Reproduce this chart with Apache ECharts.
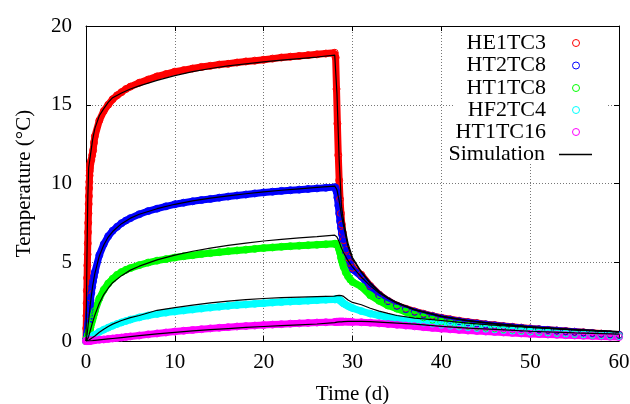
<!DOCTYPE html>
<html><head><meta charset="utf-8">
<script src="https://cdn.jsdelivr.net/npm/echarts@6/dist/echarts.min.js"></script>
<style>html,body{margin:0;padding:0;background:#fff}#c{width:630px;height:404px}</style>
</head><body><div id="c"></div>
<script>
// ---- data ----
const tMeas = [0,0.025,0.05,0.075,0.1,0.125,0.15,0.175,0.2,0.225,0.25,0.275,0.3,0.325,0.35,0.375,0.4,0.425,0.45,0.475,0.5,
  0.6,0.7,0.8,0.9,1.0,
  1.5,2,2.5,3,3.5,4,4.5,5,
  6,7,8,9,10,11,12,13,14,15,16,17,18,19,20,21,22,23,24,25,26,27,28,
  28.1,28.2,28.3,28.4,28.5,28.6,28.7,28.8,28.9,29.0,
  29.25,29.5,29.75,30,
  31,32,33,34,35,36,37,38,39,40,41,42,43,44,45,46,47,48,49,50,51,52,53,54,55,56,57,58,59,60];

const HE1TC3 = [0,0.8,1.6,2.4,3.2,4.0,4.8,5.5,6.2,6.9,7.5,8.1,8.7,9.2,9.7,10.1,10.5,10.8,11.0,11.2,11.3,
  11.5,11.8,12.1,12.6,13.0,
  14.0,14.6,15.0,15.35,15.6,15.8,16.0,16.15,
  16.4,16.6,16.8,16.95,17.1,17.2,17.3,17.4,17.47,17.55,17.6,17.68,17.75,17.8,17.86,17.93,18.0,18.05,18.1,18.15,18.2,18.25,18.3,
  18.0,16.0,13.8,11.8,10.2,9.0,8.1,7.4,6.9,6.4,
  5.8,5.3,4.95,4.65,
  4.2,3.5,2.95,2.55,2.25,2.05,1.88,1.73,1.6,1.48,1.38,1.29,1.21,1.14,1.07,1.01,0.95,0.9,0.85,0.8,0.75,0.71,0.67,0.63,0.59,0.55,0.51,0.47,0.43,0.4];

const HT2TC8 = [0,0.05,0.12,0.2,0.3,0.42,0.55,0.68,0.82,0.97,1.12,1.27,1.42,1.57,1.72,1.87,2.02,2.17,2.32,2.46,2.6,
  3.05,3.45,3.8,4.1,4.38,
  5.45,6.15,6.65,7.0,7.25,7.48,7.65,7.8,
  8.05,8.25,8.4,8.55,8.68,8.78,8.87,8.95,9.02,9.1,9.17,9.24,9.3,9.37,9.43,9.48,9.53,9.57,9.61,9.65,9.69,9.73,9.77,
  9.72,9.5,9.1,8.6,8.1,7.6,7.2,6.8,6.5,6.2,
  5.65,5.2,4.85,4.55,
  4.1,3.45,2.92,2.53,2.23,2.02,1.85,1.7,1.57,1.45,1.35,1.26,1.18,1.11,1.05,0.99,0.93,0.88,0.83,0.78,0.74,0.7,0.66,0.62,0.58,0.54,0.5,0.46,0.42,0.39];

const HT1TC8 = [0,0.02,0.05,0.08,0.12,0.16,0.2,0.24,0.29,0.34,0.39,0.44,0.49,0.54,0.59,0.64,0.69,0.74,0.79,0.84,0.89,
  1.1,1.3,1.5,1.7,1.9,
  2.7,3.25,3.65,3.95,4.2,4.38,4.52,4.63,
  4.82,4.98,5.1,5.2,5.3,5.38,5.45,5.52,5.58,5.64,5.7,5.75,5.8,5.85,5.9,5.94,5.98,6.02,6.05,6.08,6.11,6.14,6.17,
  6.17,6.15,6.1,6.0,5.8,5.6,5.3,5.1,4.9,4.7,
  4.35,4.1,3.9,3.75,
  3.45,2.9,2.55,2.25,2.05,1.85,1.65,1.5,1.35,1.22,1.12,1.03,0.96,0.9,0.84,0.79,0.74,0.7,0.66,0.62,0.58,0.55,0.51,0.48,0.45,0.42,0.39,0.36,0.33,0.3];

const HF2TC4 = [0,0.01,0.02,0.03,0.04,0.05,0.06,0.07,0.08,0.09,0.1,0.11,0.12,0.13,0.14,0.15,0.16,0.17,0.18,0.19,0.2,
  0.24,0.28,0.32,0.36,0.4,
  0.58,0.72,0.85,0.97,1.08,1.18,1.27,1.36,
  1.5,1.62,1.72,1.8,1.87,1.94,2.0,2.06,2.12,2.18,2.23,2.28,2.32,2.36,2.4,2.44,2.47,2.5,2.53,2.56,2.59,2.62,2.64,
  2.65,2.66,2.66,2.65,2.62,2.58,2.53,2.48,2.43,2.38,
  2.3,2.22,2.15,2.09,
  1.9,1.74,1.62,1.5,1.42,1.33,1.25,1.17,1.1,1.03,0.97,0.92,0.87,0.82,0.78,0.74,0.7,0.66,0.63,0.6,0.57,0.54,0.51,0.48,0.45,0.42,0.39,0.36,0.33,0.3];

const HT1TC16 = [0,0,0,0,0,0,0,0,0,0,0,0,0.01,0.01,0.01,0.01,0.01,0.01,0.02,0.02,0.02,
  0.03,0.03,0.04,0.05,0.05,
  0.08,0.1,0.13,0.16,0.19,0.22,0.26,0.29,
  0.35,0.42,0.48,0.54,0.6,0.65,0.7,0.75,0.8,0.84,0.88,0.92,0.95,0.98,1.01,1.04,1.07,1.1,1.12,1.15,1.17,1.19,1.21,
  1.21,1.22,1.22,1.22,1.23,1.23,1.23,1.23,1.23,1.23,
  1.23,1.22,1.22,1.21,
  1.19,1.16,1.12,1.08,1.03,0.98,0.93,0.88,0.83,0.78,0.74,0.7,0.66,0.63,0.6,0.57,0.54,0.51,0.48,0.45,0.43,0.41,0.39,0.37,0.35,0.33,0.31,0.29,0.27,0.25];

const tSim = [0,0.1,0.2,0.3,0.5,0.75,1,1.5,2,2.5,3,4,5,6,8,10,12,14,16,18,20,22,24,26,28,
  28.25,28.5,28.75,29,29.5,30,31,32,33,34,35,37,40,43,46,50,55,60];
const simHE1TC3 = [0,5.0,9.0,11.0,11.8,12.8,13.5,14.3,14.75,15.15,15.45,15.75,16.0,16.2,16.55,16.85,17.1,17.3,17.47,17.6,17.72,17.83,17.93,18.03,18.15,
  15.7,11.5,8.6,7.6,6.2,5.3,4.4,3.7,3.15,2.75,2.45,2.0,1.58,1.3,1.1,0.9,0.72,0.6];
const simHT2TC8 = [0,0.3,0.8,1.3,2.4,3.5,4.3,5.4,6.1,6.6,6.95,7.45,7.8,8.05,8.4,8.68,8.9,9.07,9.22,9.35,9.47,9.57,9.66,9.75,9.83,
  9.6,8.9,8.0,7.3,6.0,5.2,4.35,3.65,3.1,2.72,2.42,1.98,1.57,1.3,1.1,0.9,0.73,0.6];
const simHT1TC8 = [0,0.05,0.15,0.3,0.7,1.2,1.65,2.4,2.95,3.35,3.7,4.15,4.5,4.75,5.15,5.45,5.7,5.9,6.07,6.22,6.35,6.45,6.55,6.63,6.72,
  6.6,6.3,5.9,5.6,5.1,4.7,4.05,3.5,3.05,2.7,2.4,1.98,1.55,1.28,1.08,0.88,0.7,0.58];
const simHF2TC4 = [0,0,0.02,0.05,0.12,0.22,0.32,0.55,0.75,0.92,1.07,1.3,1.48,1.62,1.95,2.12,2.28,2.42,2.53,2.63,2.7,2.75,2.79,2.82,2.85,
  2.88,2.9,2.88,2.83,2.6,2.45,2.3,2.08,1.9,1.75,1.62,1.45,1.3,1.13,1.0,0.86,0.7,0.57];
const simHT1TC16 = [0,0,0,0,0.01,0.02,0.04,0.07,0.1,0.13,0.16,0.22,0.28,0.34,0.45,0.55,0.64,0.72,0.79,0.86,0.92,0.98,1.03,1.08,1.17,
  1.2,1.21,1.22,1.23,1.24,1.25,1.25,1.23,1.2,1.17,1.14,1.07,0.93,0.82,0.74,0.62,0.52,0.44];

const measNames = ['HE1TC3','HT2TC8','HT1TC8','HF2TC4','HT1TC16'];
const measColors = ['#ff0000','#0000ff','#00ff00','#00ffff','#ff00ff'];
const measValues = [HE1TC3, HT2TC8, HT1TC8, HF2TC4, HT1TC16];
const simValues = [simHE1TC3, simHT2TC8, simHT1TC8, simHF2TC4, simHT1TC16];
const simName = 'Simulation';
const xTitle = 'Time (d)';
const yTitle = 'Temperature (°C)';

// ---- chart ----
const FONT = 'Liberation Serif';
const pairs = (ts, vs) => ts.map((t, i) => [t, vs[i]]);
const chart = echarts.init(document.getElementById('c'), null, {renderer: 'canvas'});

const series = [];
measNames.forEach((n, i) => {
  series.push({
    type: 'line', name: n, data: pairs(tMeas, measValues[i]),
    symbol: 'circle', symbolSize: 7, showAllSymbol: true,
    lineStyle: {color: measColors[i], width: 7},
    itemStyle: {color: 'rgba(0,0,0,0)', borderColor: measColors[i], borderWidth: 1},
    emphasis: {disabled: true}, silent: true, z: 2
  });
});
simValues.forEach(v => {
  series.push({
    type: 'line', name: simName, data: pairs(tSim, v), symbol: 'none',
    lineStyle: {color: '#000', width: 1.2}, itemStyle: {color: '#000'},
    emphasis: {disabled: true}, silent: true, z: 3
  });
});

const textStyle = {fontFamily: FONT, fontSize: 21, color: '#000'};
const legendText = {fontFamily: FONT, fontSize: 22, color: '#000'};
const rowTop = [32, 54.5, 77, 99, 121, 143.5];
const legends = measNames.map((n, i) => ({
  data: [{name: n, icon: 'circle', itemStyle: {color: 'rgba(0,0,0,0)', borderColor: measColors[i], borderWidth: 1}}],
  orient: 'vertical', align: 'right', right: 50, top: rowTop[i],
  itemWidth: 50, itemHeight: 7, padding: 0, selectedMode: false, textStyle: legendText, z: 5
}));
legends.push({
  data: [{name: simName, icon: 'rect', itemStyle: {color: '#000'}}],
  orient: 'vertical', align: 'right', right: 38, top: rowTop[5],
  itemWidth: 33, itemHeight: 1.5, symbolKeepAspect: false, padding: 0, selectedMode: false,
  textStyle: Object.assign({}, legendText, {padding: [0, 9, 0, 0]}), z: 5
});

const grid = {left: 86, right: 11, top: 26, bottom: 63, containLabel: false, outerBoundsMode: 'none'};
const splitLine = {show: true, lineStyle: {color: '#777', type: [1, 2], width: 1}};
const axisLine = {show: true, onZero: false, lineStyle: {color: '#000', width: 1}};
const axisTick = {show: true, inside: true, length: 5, lineStyle: {color: '#000'}};

chart.setOption({
  animation: false,
  backgroundColor: '#fff',
  grid: grid,
  legend: legends,
  graphic: [{type: 'rect', shape: {x: 453, y: 27, width: 154, height: 136}, style: {fill: '#fff'}, z: 3, silent: true}],
  xAxis: [
    {type: 'value', min: 0, max: 60, interval: 10, axisLine: axisLine, axisTick: axisTick,
     axisLabel: Object.assign({margin: 11}, textStyle), splitLine: splitLine,
     name: xTitle, nameLocation: 'middle', nameGap: 43, nameTextStyle: textStyle},
    {type: 'value', position: 'top', min: 0, max: 60, interval: 10, axisLine: axisLine, axisTick: axisTick,
     axisLabel: {show: false}, splitLine: {show: false}}
  ],
  yAxis: [
    {type: 'value', min: 0, max: 20, interval: 5, axisLine: axisLine, axisTick: axisTick,
     axisLabel: Object.assign({margin: 14}, textStyle), splitLine: splitLine,
     name: yTitle, nameLocation: 'middle', nameGap: 51, nameTextStyle: textStyle},
    {type: 'value', position: 'right', min: 0, max: 20, interval: 5, axisLine: axisLine, axisTick: axisTick,
     axisLabel: {show: false}, splitLine: {show: false}}
  ],
  series: series
});
</script></body></html>
